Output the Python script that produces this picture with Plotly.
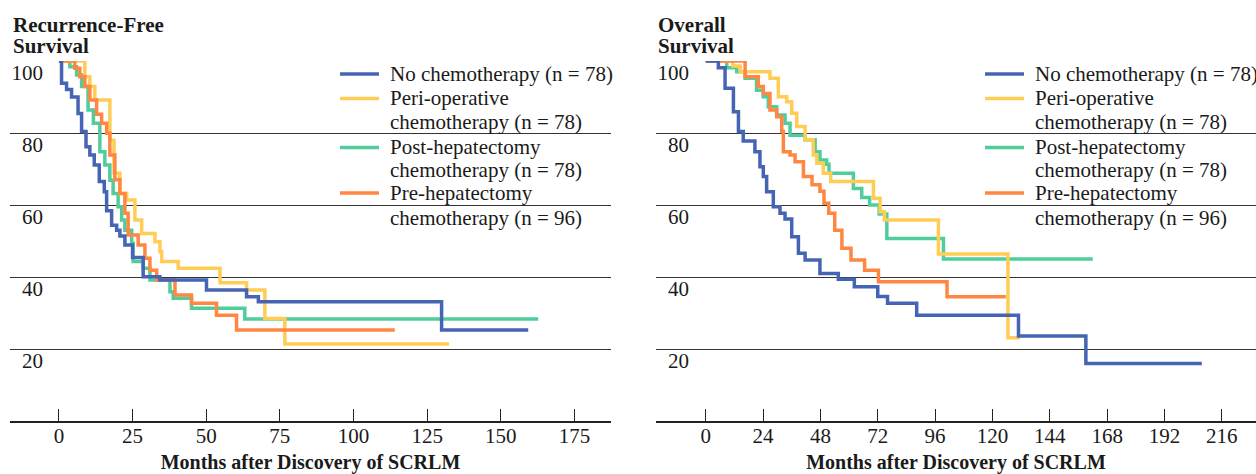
import plotly.graph_objects as go

# ---------------- data ----------------
series_names = ["No chemotherapy", "Peri-operative chemotherapy",
                "Post-hepatectomy chemotherapy", "Pre-hepatectomy chemotherapy"]
legend_lines = [["No chemotherapy (n = 78)"],
                ["Peri-operative", "chemotherapy (n = 78)"],
                ["Post-hepatectomy", "chemotherapy (n = 78)"],
                ["Pre-hepatectomy", "chemotherapy (n = 96)"]]
colors = ["#4664B4", "#FFCD55", "#50CD9B", "#FF8741"]

# Recurrence-free survival (months, %)
rfs_no_t = [0, 0.9, 2.6, 4.3, 6.5, 7.7, 9.2, 10.5, 12.0, 13.7, 15.4, 16.2, 17.9, 19.6, 20.7, 22.4,
            25.0, 28.6, 34.3, 50.1, 63.7, 67.7, 129.9, 159.3]
rfs_no_s = [100, 93.8, 92.1, 90.0, 85.4, 80.4, 76.2, 73.9, 71.1, 66.5, 63.7, 58.4, 54.4, 53.0, 51.4, 48.9,
            45.4, 40.1, 39.2, 36.4, 34.5, 33.1, 25.3, 25.3]
rfs_peri_t = [0, 8.8, 10.5, 12.2, 17.3, 18.7, 20.7, 23.0, 25.8, 28.1, 32.6, 34.3, 34.9, 40.5, 54.7,
              63.7, 69.9, 76.7, 132.4]
rfs_peri_s = [100, 95.6, 92.9, 89.2, 78.0, 68.8, 63.2, 61.4, 55.8, 52.1, 49.8, 47.0, 44.3, 42.4, 38.4,
              36.4, 28.5, 21.4, 21.4]
rfs_post_t = [0, 3.7, 6.0, 7.7, 9.9, 11.7, 13.9, 15.6, 17.3, 18.4, 20.1, 21.3, 22.4, 24.7, 25.2, 28.6,
              30.9, 37.7, 38.8, 45.0, 63.1, 162.7]
rfs_post_s = [100, 98.4, 96.1, 92.9, 86.4, 82.7, 74.8, 71.1, 66.9, 63.2, 59.5, 55.8, 53.0, 49.4, 44.3, 42.4,
              39.2, 35.9, 34.1, 31.3, 28.3, 28.3]
rfs_pre_t = [0, 5.4, 7.1, 8.8, 10.5, 12.8, 14.5, 16.2, 17.3, 19.0, 20.7, 22.4, 23.5, 26.9, 29.2, 30.9,
             33.2, 39.4, 45.0, 53.5, 60.3, 114.0]
rfs_pre_s = [100, 98.0, 95.6, 92.9, 89.2, 85.2, 82.7, 79.9, 73.9, 67.0, 63.2, 57.7, 51.7, 48.9, 45.2, 41.9,
             39.2, 35.0, 32.7, 29.4, 25.3, 25.3]

# Overall survival (months, %)
os_no_t = [0, 5.3, 8.1, 11.6, 13.7, 15.7, 20.6, 22.7, 24.1, 25.5, 28.3, 31.1, 33.2, 36.0, 38.8, 41.6,
           47.8, 55.5, 62.2, 72.0, 76.1, 88.3, 130.9, 159.1, 207.6]
os_no_s = [100, 98.1, 92.4, 85.9, 80.4, 77.8, 74.8, 70.6, 67.9, 63.7, 59.5, 57.7, 56.1, 51.2, 46.6, 44.7,
           41.0, 39.4, 37.3, 34.6, 32.7, 29.4, 23.6, 16.0, 16.0]
os_peri_t = [0, 11.3, 14.4, 26.9, 30.4, 33.9, 36.0, 38.1, 41.6, 45.0, 46.5, 49.2, 52.3, 70.2, 73.0,
             74.8, 97.4, 126.5, 131.6]
os_peri_s = [100, 98.6, 97.0, 95.2, 90.1, 88.7, 85.5, 81.8, 78.1, 73.9, 71.6, 68.8, 66.5, 61.9, 58.1,
             55.8, 46.4, 23.1, 23.1]
os_post_t = [0, 8.8, 13.0, 16.5, 21.3, 24.1, 26.2, 29.7, 33.2, 35.3, 41.6, 45.8, 47.8, 50.6, 51.6, 61.8,
             65.3, 68.6, 72.6, 75.8, 99.5, 162.0]
os_post_s = [100, 98.1, 97.0, 95.2, 91.9, 90.1, 87.3, 85.0, 82.7, 79.4, 78.1, 74.8, 72.5, 71.3, 68.8, 64.6,
             62.1, 60.0, 57.5, 50.7, 45.0, 45.0]
os_pre_t = [0, 16.5, 22.0, 24.1, 26.9, 29.7, 31.8, 32.5, 35.3, 37.4, 40.9, 44.5, 47.8, 49.5, 51.5, 54.0,
            57.0, 60.8, 66.5, 72.3, 101.0, 125.6]
os_pre_s = [100, 95.6, 92.9, 91.0, 86.4, 84.5, 80.4, 74.8, 73.9, 72.0, 67.9, 65.6, 63.8, 60.5, 57.7, 53.0,
            48.0, 44.7, 41.9, 38.7, 34.5, 34.5]

rfs_x_ticks = [0, 25, 50, 75, 100, 125, 150, 175]
os_x_ticks = [0, 24, 48, 72, 96, 120, 144, 168, 192, 216]
y_ticks = [20, 40, 60, 80, 100]
panel_titles = [["Recurrence-Free", "Survival"], ["Overall", "Survival"]]
x_title = "Months after Discovery of SCRLM"

# ---------------- figure ----------------
W, H = 1256, 474
ML, MR, MT, MB = 10, 0, 61, 53
PW, PH = W - ML - MR, H - MT - MB
FONT = "Liberation Serif"
TXT = "#1a1a1a"


def px_x(p):
    return (p - ML) / PW


def px_y(p):
    return (H - MB - p) / PH


fig = go.Figure()

rfs = [(rfs_no_t, rfs_no_s), (rfs_peri_t, rfs_peri_s), (rfs_post_t, rfs_post_s), (rfs_pre_t, rfs_pre_s)]
oss = [(os_no_t, os_no_s), (os_peri_t, os_peri_s), (os_post_t, os_post_s), (os_pre_t, os_pre_s)]
draw_order = [2, 1, 3, 0]
for panel, (data, xa, ya) in enumerate([(rfs, "x", "y"), (oss, "x2", "y2")]):
    for i in draw_order:
        t, s = data[i]
        fig.add_trace(go.Scatter(x=t, y=s, mode="lines", line=dict(color=colors[i], width=3.5, shape="hv"),
                                 name=series_names[i], showlegend=False, xaxis=xa, yaxis=ya))

axis_common = dict(showgrid=False, zeroline=False, showline=True, linecolor="#222", linewidth=1.5,
                   ticks="inside", ticklen=12, tickwidth=1.3, tickcolor="#222",
                   tickfont=dict(family=FONT, size=21, color=TXT), ticklabelstandoff=-5,
                   title=dict(text=x_title, font=dict(family=FONT, size=20, color=TXT, weight="bold"),
                              standoff=18),
                   automargin=False)
yaxis_common = dict(range=[0, 100], tickvals=y_ticks, showgrid=True, gridcolor="#333", gridwidth=1.2,
                    zeroline=False, showline=False, ticks="", anchor="free", ticklabelshift=12,
                    tickfont=dict(family=FONT, size=21, color=TXT), automargin=False)

fig.update_layout(
    width=W, height=H, margin=dict(l=ML, r=MR, t=MT, b=MB),
    paper_bgcolor="white", plot_bgcolor="white", showlegend=False,
    xaxis=dict(domain=[0, px_x(611)], range=[-16.6, 187.4], tickvals=rfs_x_ticks, anchor="y", **axis_common),
    xaxis2=dict(domain=[px_x(656), 1], range=[-20.8, 230.3], tickvals=os_x_ticks, anchor="y2", **axis_common),
    yaxis=dict(position=px_x(43), **yaxis_common),
    yaxis2=dict(position=px_x(689), **yaxis_common),
)

annotations = []
shapes = []
# panel titles
for (tx, lines) in zip([11, 656], panel_titles):
    for ly, line in zip([25, 46], lines):
        annotations.append(dict(text=line, x=px_x(tx), y=px_y(ly), xref="paper", yref="paper",
                                xanchor="left", yanchor="middle", showarrow=False,
                                font=dict(family=FONT, size=21, color=TXT, weight="bold")))
# legends
text_rows = [[74], [98.5, 122], [147, 169.5], [193, 218]]
sample_rows = [74, 98.5, 147.5, 193]
for (lx0, lx1, tx) in [(340, 379, 388), (985, 1024, 1033)]:
    for i in range(4):
        for ly, line in zip(text_rows[i], legend_lines[i]):
            annotations.append(dict(text=line, x=px_x(tx), y=px_y(ly), xref="paper", yref="paper",
                                    xanchor="left", yanchor="middle", showarrow=False,
                                    font=dict(family=FONT, size=21, color=TXT)))
        shapes.append(dict(type="line", xref="paper", yref="paper", x0=px_x(lx0), x1=px_x(lx1),
                           y0=px_y(sample_rows[i]), y1=px_y(sample_rows[i]),
                           line=dict(color=colors[i], width=3.5)))
fig.update_layout(annotations=annotations, shapes=shapes)

fig.write_html("out.html", config={"displayModeBar": False},
               post_script="document.body.style.margin='0';document.body.style.overflow='hidden';")
